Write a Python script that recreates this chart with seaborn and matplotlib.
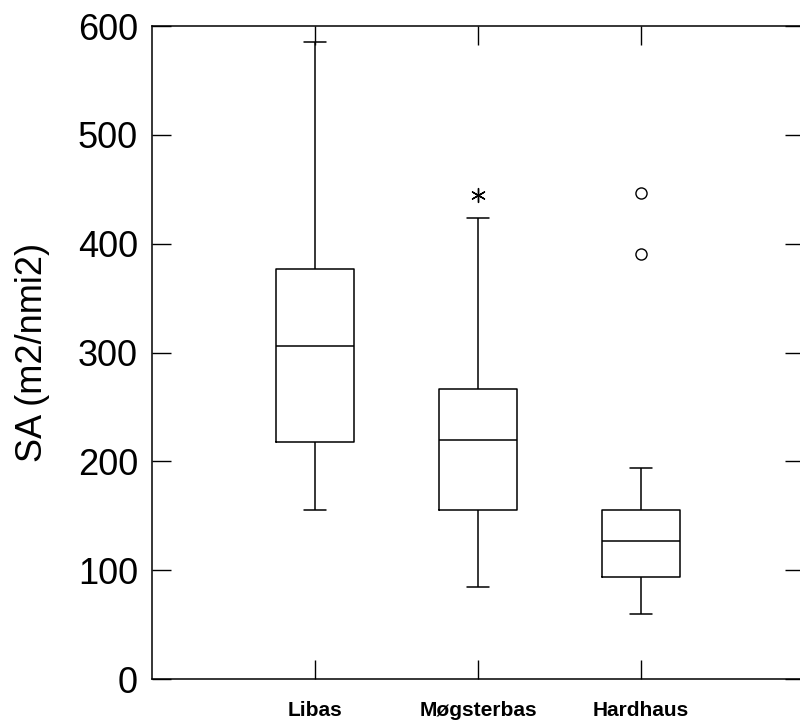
import matplotlib
matplotlib.use("Agg")
import matplotlib.pyplot as plt
import pandas as pd
import seaborn as sns

# five-number summaries: low whisker, Q1, median, Q3, high whisker
sites = ["Libas", "Møgsterbas", "Hardhaus"]
libas = [155, 218, 306, 377, 585]
mogsterbas = [85, 155, 220, 267, 424]
hardhaus = [60, 94, 127, 155, 194]

# points drawn beyond the whiskers
far_site = ["Møgsterbas"]
far_value = [445]
out_site = ["Hardhaus", "Hardhaus"]
out_value = [391, 447]

y_ticks = [0, 100, 200, 300, 400, 500, 600]

rows = []
for site, vals in zip(sites, [libas, mogsterbas, hardhaus]):
    for v in vals:
        rows.append({"site": site, "SA": v})
df = pd.DataFrame(rows)

sns.set_style("ticks", {
    "text.color": "black",
    "axes.labelcolor": "black",
    "xtick.color": "black",
    "ytick.color": "black",
    "axes.edgecolor": "black",
})
plt.rcParams["font.family"] = ["Liberation Sans", "DejaVu Sans"]

fig = plt.figure(figsize=(8, 7.24), dpi=100)
ax = fig.add_axes([0.19, 0.062, 0.815, 0.902])

sns.boxplot(
    data=df, x="site", y="SA", order=sites,
    whis=(0, 100), width=0.48, fill=False,
    color="black", linewidth=1.1,
    capwidths=0.13, ax=ax
)

sns.stripplot(
    x=out_site, y=out_value, order=sites, jitter=False,
    marker="o", size=8, color="white", edgecolor="black",
    linewidth=1.0, ax=ax
)
sns.stripplot(
    x=far_site, y=far_value, order=sites, jitter=False,
    marker=(6, 2, 0), size=10, color="black", linewidth=1.0, ax=ax
)

ax.set_xlim(-1, 3)
ax.set_ylim(0, 600)
ax.set_yticks(y_ticks)
ax.set_xlabel("")
ax.set_ylabel("SA (m2/nmi2)", fontsize=26, labelpad=20)

ax.tick_params(axis="y", direction="in", length=14, width=1, labelsize=26,
               pad=10, right=True, left=True)
ax.tick_params(axis="x", direction="in", length=14, width=1, pad=16,
               top=True, bottom=True)
for lab in ax.get_xticklabels():
    lab.set_fontfamily(["Liberation Sans Narrow", "Liberation Sans"])
    lab.set_fontweight("bold")
    lab.set_fontsize(15)

for sp in ax.spines.values():
    sp.set_visible(True)
    sp.set_linewidth(1.1)
    sp.set_color("black")

fig.savefig("out.png", dpi=100)
